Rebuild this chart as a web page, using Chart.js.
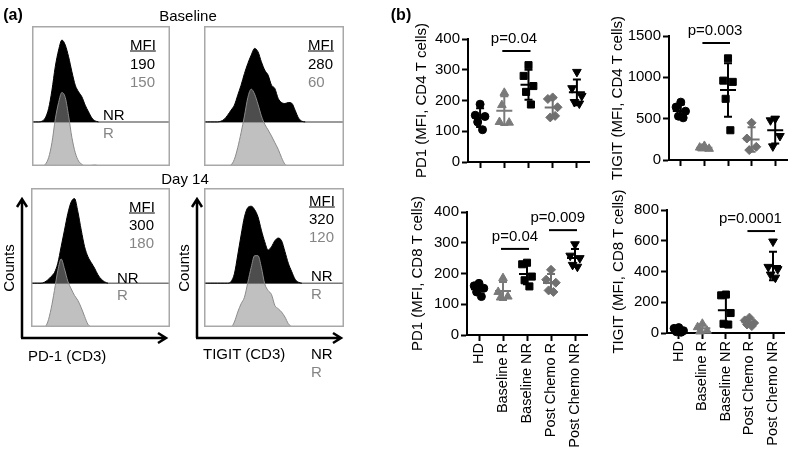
<!DOCTYPE html>
<html>
<head>
<meta charset="utf-8">
<script src="https://cdn.jsdelivr.net/npm/chart.js@4"></script>
<style>
  body { margin: 0; width: 793px; height: 452px; overflow: hidden; position: relative; background: #fff;
         font-family: Arial, "Liberation Sans", Helvetica, sans-serif; }
  canvas { position: absolute; }
  .t { position: absolute; transform: translate(-50%, -50%); white-space: nowrap; font-size: 15px; line-height: 1; color: #000; }
  .l { transform: translate(0, -50%); }
  .g { color: #858585; }
  .b { font-weight: bold; font-size: 16px; }
  .u { text-decoration: underline; }
  .rot { transform: translate(-50%, -50%) rotate(-90deg); }
</style>
</head>
<body>

<canvas id="h1" width="138" height="140" style="left:32px;top:26px"></canvas>
<canvas id="h2" width="140" height="140" style="left:204px;top:26px"></canvas>
<canvas id="h3" width="139" height="139" style="left:31px;top:188px"></canvas>
<canvas id="h4" width="140" height="139" style="left:204px;top:188px"></canvas>

<canvas id="c1" width="186" height="186" style="left:409px;top:0px"></canvas>
<canvas id="c2" width="188" height="186" style="left:605px;top:0px"></canvas>
<canvas id="c3" width="190" height="262" style="left:405px;top:190px"></canvas>
<canvas id="c4" width="187" height="262" style="left:606px;top:190px"></canvas>

<svg width="793" height="452" style="position:absolute;left:0;top:0">
  <g stroke="#000" stroke-width="2.5" fill="none">
    <path d="M22 338 V199 M17 207 L22 199 L27 207"/>
    <path d="M21 338 H166 M158 333 L166 338 L158 343"/>
    <path d="M197 338 V199 M192 207 L197 199 L202 207"/>
    <path d="M196 338 H341 M333 333 L341 338 L333 343"/>
  </g>
</svg>

<div class="t b" style="left:13px;top:15px">(a)</div>
<div class="t b" style="left:401px;top:15px">(b)</div>
<div class="t" style="left:188px;top:15px">Baseline</div>
<div class="t" style="left:185px;top:178px">Day 14</div>

<div class="t l u" style="left:130px;top:44px">MFI</div>
<div class="t l" style="left:130px;top:63px">190</div>
<div class="t l g" style="left:130px;top:81px">150</div>
<div class="t l" style="left:103px;top:114px">NR</div>
<div class="t l g" style="left:103px;top:132px">R</div>

<div class="t l u" style="left:308px;top:44px">MFI</div>
<div class="t l" style="left:308px;top:63px">280</div>
<div class="t l g" style="left:308px;top:81px">60</div>

<div class="t l u" style="left:129px;top:206px">MFI</div>
<div class="t l" style="left:129px;top:224px">300</div>
<div class="t l g" style="left:129px;top:242px">180</div>
<div class="t l" style="left:117px;top:277px">NR</div>
<div class="t l g" style="left:117px;top:294px">R</div>

<div class="t l u" style="left:309px;top:200px">MFI</div>
<div class="t l" style="left:309px;top:218px">320</div>
<div class="t l g" style="left:309px;top:236px">120</div>
<div class="t l" style="left:311px;top:275px">NR</div>
<div class="t l g" style="left:311px;top:293px">R</div>

<div class="t l" style="left:28px;top:355px">PD-1 (CD3)</div>
<div class="t l" style="left:203px;top:353px">TIGIT (CD3)</div>
<div class="t l" style="left:311px;top:353px">NR</div>
<div class="t l g" style="left:311px;top:371px">R</div>
<div class="t rot" style="left:8px;top:268px">Counts</div>
<div class="t rot" style="left:183px;top:268px">Counts</div>

<script>
Chart.defaults.font.family = 'Arial, "Liberation Sans", Helvetica, sans-serif';

// ---- panel (b) data ----
const categories = ["HD", "Baseline R", "Baseline NR", "Post Chemo R", "Post Chemo NR"];

const pd1Cd4 = [[188, 152, 148, 130, 105], [225, 130, 128, 185], [315, 280, 247, 228, 187], [210, 205, 178, 145, 150], [293, 240, 215, 195, 190]];
const tigitCd4 = [[700, 640, 590, 530, 510], [170, 150, 135, 140], [1230, 960, 945, 740, 360], [450, 260, 160, 120], [500, 480, 290, 165]];
const pd1Cd8 = [[168, 160, 152, 140, 125], [185, 140, 125, 122], [235, 230, 190, 178, 158], [212, 180, 170, 145, 140], [295, 258, 250, 228, 222]];
const tigitCd8 = [[35, 30, 15, 8, 5], [60, 38, 15, 10], [250, 245, 130, 60, 55], [100, 82, 65, 55, 45], [595, 430, 415, 380, 360]];

const pd1Cd4Ticks = [0, 100, 200, 300, 400];
const tigitCd4Ticks = [0, 500, 1000, 1500];
const pd1Cd8Ticks = [0, 100, 200, 300, 400];
const tigitCd8Ticks = [0, 200, 400, 600, 800];

// ---- panel (a) histogram counts (channel bins) ----
const pd1BaseNR = [0, 0, 0, 2, 12, 40, 95, 165, 215, 245, 230, 195, 150, 110, 90, 75, 50, 30, 12, 3, 0];
const pd1BaseR = [0, 0, 0, 0, 5, 25, 70, 140, 190, 220, 205, 150, 85, 40, 15, 5, 0, 0, 2, 3, 0];
const tigitBaseNR = [0, 0, 0, 0, 0, 2, 8, 20, 35, 50, 80, 110, 145, 175, 200, 220, 210, 180, 155, 140, 110, 100, 70, 58, 55, 58, 56, 35, 12, 2, 0];
const tigitBaseR = [0, 0, 0, 0, 0, 0, 0, 0, 3, 20, 55, 100, 150, 205, 230, 215, 185, 150, 125, 108, 90, 70, 50, 25, 5, 0];
const pd1D14NR = [0, 0, 0, 0, 3, 10, 20, 32, 60, 110, 160, 210, 245, 255, 215, 160, 110, 80, 62, 45, 25, 12, 4, 0];
const pd1D14R = [0, 0, 0, 0, 0, 15, 55, 110, 170, 205, 175, 138, 115, 95, 80, 58, 32, 8, 0];
const tigitD14NR = [0, 0, 0, 0, 0, 0, 0, 0, 5, 28, 85, 145, 200, 228, 232, 222, 200, 160, 125, 100, 110, 128, 136, 128, 95, 60, 35, 12, 3, 0];
const tigitD14R = [0, 0, 0, 0, 0, 0, 0, 0, 0, 15, 45, 70, 90, 135, 180, 215, 215, 180, 130, 110, 98, 65, 55, 45, 30, 10, 0];

// layout of a histogram box: lower (R) lane height, full box height, bins across
const HIST_BASE = 132;
const HIST_TOP = 419;
const HIST_BINS = 41.5;

const boxPlugin = {
  id: 'box',
  beforeDatasetsDraw(chart) {
    const { ctx, chartArea: a, scales: { y } } = chart;
    const my = y.getPixelForValue(HIST_BASE);
    ctx.save();
    ctx.strokeStyle = '#7a7a7a';
    ctx.lineWidth = 1.5;
    ctx.beginPath();
    ctx.moveTo(a.left, my);
    ctx.lineTo(a.right, my);
    ctx.stroke();
    ctx.restore();
  },
  afterDraw(chart) {
    const { ctx, chartArea: a } = chart;
    ctx.save();
    ctx.strokeStyle = '#a8a8a8';
    ctx.lineWidth = 1.5;
    ctx.strokeRect(a.left + 0.75, a.top + 0.75, a.right - a.left - 1.5, a.bottom - a.top - 1.5);
    ctx.restore();
  }
};

function histChart(id, nr, r) {
  new Chart(document.getElementById(id), {
    type: 'line',
    data: {
      datasets: [
        {
          data: r.map((v, i) => ({ x: i, y: v })),
          fill: 'origin',
          backgroundColor: 'rgba(140,140,140,0.55)',
          borderColor: '#8a8a8a',
          borderWidth: 1
        },
        {
          data: nr.map((v, i) => ({ x: i, y: HIST_BASE + v })),
          fill: { value: HIST_BASE },
          backgroundColor: '#000',
          borderColor: '#000',
          borderWidth: 1
        }
      ]
    },
    options: {
      responsive: false,
      animation: false,
      events: [],
      layout: { padding: 0 },
      elements: { point: { radius: 0 }, line: { cubicInterpolationMode: 'monotone' } },
      scales: {
        x: { type: 'linear', display: false, min: 0, max: HIST_BINS },
        y: { display: false, min: 0, max: HIST_TOP }
      },
      plugins: { legend: { display: false }, tooltip: { enabled: false } }
    },
    plugins: [boxPlugin]
  });
}

histChart('h1', pd1BaseNR, pd1BaseR);
histChart('h2', tigitBaseNR, tigitBaseR);
histChart('h3', pd1D14NR, pd1D14R);
histChart('h4', tigitD14NR, tigitD14R);

// ---- panel (b) dot plots ----
const groupStyle = [
  { color: '#000', shape: 'circle', r: 4, rot: 0 },
  { color: '#7a7a7a', shape: 'triangle', r: 5, rot: 0 },
  { color: '#000', shape: 'rect', r: 5, rot: 0 },
  { color: '#707070', shape: 'rectRot', r: 4.5, rot: 0 },
  { color: '#000', shape: 'triangle', r: 5, rot: 180 }
];
const jit = [0, -0.2, 0.2, -0.1, 0.1];

const summaryPlugin = {
  id: 'summary',
  afterDatasetsDraw(chart, args, opts) {
    const { ctx, scales: { x, y } } = chart;
    ctx.save();
    chart.data.datasets.forEach((ds, g) => {
      const vals = ds.data.map(p => p.y);
      const m = vals.reduce((a, b) => a + b, 0) / vals.length;
      const sd = Math.sqrt(vals.reduce((a, b) => a + (b - m) ** 2, 0) / (vals.length - 1));
      const cx = x.getPixelForValue(g + 1);
      const ym = y.getPixelForValue(m), yt = y.getPixelForValue(m + sd), yb = y.getPixelForValue(m - sd);
      ctx.strokeStyle = ds.borderColor;
      ctx.lineWidth = 2;
      ctx.beginPath();
      ctx.moveTo(cx - 8, ym); ctx.lineTo(cx + 8, ym);
      ctx.moveTo(cx, yt); ctx.lineTo(cx, yb);
      ctx.moveTo(cx - 4, yt); ctx.lineTo(cx + 4, yt);
      ctx.moveTo(cx - 4, yb); ctx.lineTo(cx + 4, yb);
      ctx.stroke();
    });
    (opts.sig || []).forEach(s => {
      const yy = y.getPixelForValue(s.y);
      ctx.strokeStyle = '#000';
      ctx.lineWidth = 2;
      ctx.beginPath();
      ctx.moveTo(x.getPixelForValue(s.from) - 2, yy);
      ctx.lineTo(x.getPixelForValue(s.to) + 2, yy);
      ctx.stroke();
      ctx.fillStyle = '#000';
      ctx.font = '15px Arial, "Liberation Sans", sans-serif';
      ctx.textAlign = 'center';
      ctx.textBaseline = 'middle';
      ctx.fillText(s.text, x.getPixelForValue(s.tx), yy - 12);
    });
    ctx.restore();
  }
};

function dotChart(id, groups, ticks, title, showLabels, sig, geom) {
  const tickGrid = { display: true, drawOnChartArea: false, drawTicks: true, tickLength: 6, tickWidth: 2, tickColor: '#000' };
  new Chart(document.getElementById(id), {
    type: 'scatter',
    data: {
      datasets: groups.map((vals, g) => ({
        data: vals.map((v, k) => ({ x: g + 1 + jit[k], y: v })),
        pointStyle: groupStyle[g].shape,
        pointRadius: groupStyle[g].r,
        pointRotation: groupStyle[g].rot,
        backgroundColor: groupStyle[g].color,
        borderColor: groupStyle[g].color,
        borderWidth: 1,
        clip: false
      }))
    },
    options: {
      responsive: false,
      animation: false,
      events: [],
      layout: { padding: { top: geom.top, right: geom.right, left: 0, bottom: 0 } },
      scales: {
        x: {
          type: 'linear', min: 0.5, max: 5.5,
          afterBuildTicks: s => { s.ticks = categories.map((c, i) => ({ value: i + 1 })); },
          afterFit: s => { s.height = geom.xh; },
          grid: tickGrid,
          border: { color: '#000', width: 2 },
          ticks: {
            display: showLabels, autoSkip: false, minRotation: 90, maxRotation: 90,
            color: '#000', font: { size: 14.5 }, padding: 2,
            callback: v => categories[v - 1]
          }
        },
        y: {
          min: ticks[0], max: ticks[ticks.length - 1],
          afterBuildTicks: s => { s.ticks = ticks.map(v => ({ value: v })); },
          afterFit: s => { s.width = geom.yw; },
          grid: tickGrid,
          border: { color: '#000', width: 2 },
          ticks: { color: '#000', font: { size: 15 }, padding: 2, callback: v => String(v) },
          title: { display: true, text: title, color: '#000', font: { size: 15 }, padding: { top: 4, bottom: 4 } }
        }
      },
      plugins: { legend: { display: false }, tooltip: { enabled: false }, summary: { sig: sig } }
    },
    plugins: [summaryPlugin]
  });
}

dotChart('c1', pd1Cd4, pd1Cd4Ticks, 'PD1 (MFI, CD4 T cells)', false,
  [{ from: 2, to: 3, y: 361, text: 'p=0.04', tx: 2.4 }],
  { top: 39, right: 3, yw: 59, xh: 24 });
dotChart('c2', tigitCd4, tigitCd4Ticks, 'TIGIT (MFI, CD4 T cells)', false,
  [{ from: 2, to: 3, y: 1415, text: 'p=0.003', tx: 2.45 }],
  { top: 36, right: 1, yw: 64, xh: 26 });
dotChart('c3', pd1Cd8, pd1Cd8Ticks, 'PD1 (MFI, CD8 T cells)', true,
  [{ from: 2, to: 3, y: 280, text: 'p=0.04', tx: 2.5 }, { from: 4, to: 5, y: 341, text: 'p=0.009', tx: 4.28 }],
  { top: 22, right: 3, yw: 62, xh: 117 });
dotChart('c4', tigitCd8, tigitCd8Ticks, 'TIGIT (MFI, CD8 T cells)', true,
  [{ from: 4, to: 5, y: 663, text: 'p=0.0001', tx: 4.04 }],
  { top: 20, right: 1, yw: 61, xh: 119 });
</script>
</body>
</html>
